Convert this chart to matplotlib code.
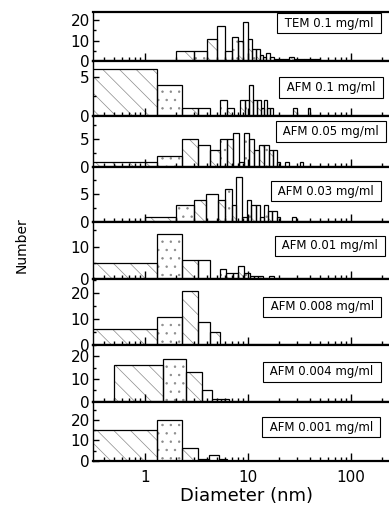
import matplotlib

matplotlib.use("Agg")
import matplotlib.pyplot as plt
import matplotlib.ticker as mticker
import numpy as np

plt.rcParams["font.family"] = ["DejaVu Sans"]
plt.rcParams["hatch.linewidth"] = 0.5

# --- data: bin edges (nm) and counts per panel, top to bottom ---
labels = ["TEM 0.1 mg/ml", "AFM 0.1 mg/ml", "AFM 0.05 mg/ml", "AFM 0.03 mg/ml",
          "AFM 0.01 mg/ml", "AFM 0.008 mg/ml", "AFM 0.004 mg/ml", "AFM 0.001 mg/ml"]

tem_edges = [2, 3, 4, 5, 6, 7, 8, 9, 10, 11, 12, 13, 14, 15, 16.5, 18, 20, 22, 25, 28, 31, 35, 40, 45, 50]
tem_counts = [5, 5, 11, 17, 5, 12, 10, 19, 11, 6, 6, 3, 2, 4, 2, 1, 1, 1, 2, 1, 1, 1, 1, 1]

afm01_edges = [0.3, 1.3, 2.3, 3.3, 4.3, 5.3, 6.3, 7.3, 8.3, 9.3, 10.3, 11.3, 12.3,
               13.3, 14.3, 15.3, 16.3, 17.3, 27.5, 29.7, 38, 40]
afm01_counts = [6, 4, 1, 1, 0, 2, 1, 0, 2, 2, 4, 2, 2, 1, 2, 1, 1, 0, 1, 0, 1]

afm005_edges = [0.3, 1.3, 2.3, 3.3, 4.3, 5.3, 6.2, 7.1, 8.2, 9.2, 10.3, 11.4, 12.9,
                14.4, 16.1, 17.3, 19.0, 20.4, 23, 25, 32, 34]
afm005_counts = [1, 2, 5, 4, 3, 5, 5, 6, 1, 6, 5, 3, 4, 4, 3, 3, 1, 0, 1, 0, 1]

afm003_edges = [1.0, 2.0, 3.0, 3.9, 5.1, 6.0, 7.0, 7.7, 8.8, 9.8, 10.8, 11.9, 13.1,
                14.4, 15.8, 17.2, 19.0, 20.4, 27, 29]
afm003_counts = [1, 3, 4, 5, 4, 6, 3, 8, 1, 4, 3, 3, 1, 3, 2, 2, 1, 0, 1]

afm001_edges = [0.3, 1.3, 2.3, 3.3, 4.3, 5.3, 6.1, 7.1, 8.05, 9.2, 10.4, 11.4, 12.6, 14.1, 16, 18]
afm001_counts = [5, 14, 6, 6, 0, 3, 2, 2, 4, 2, 1, 1, 1, 0, 1]

afm0008_edges = [0.3, 1.3, 2.3, 3.3, 4.3, 5.3]
afm0008_counts = [6, 11, 21, 9, 5]

afm0004_edges = [0.5, 1.5, 2.5, 3.55, 4.5, 5.5, 6.5]
afm0004_counts = [16, 19, 13, 5, 1, 1]

afm0001_edges = [0.3, 1.3, 2.3, 3.3, 4.2, 5.2, 6.2]
afm0001_counts = [15, 20, 6, 1, 3, 1]

edges_all = [tem_edges, afm01_edges, afm005_edges, afm003_edges,
             afm001_edges, afm0008_edges, afm0004_edges, afm0001_edges]
counts_all = [tem_counts, afm01_counts, afm005_counts, afm003_counts,
              afm001_counts, afm0008_counts, afm0004_counts, afm0001_counts]

# --- layout (pixels of a 389x508 canvas) ---
W, H = 389, 508
panel_y = [12, 61, 116, 167.3, 222.3, 279, 345, 401.7, 460.7]
ax_left = 92.7
ylims = [24, 7.0, 9, 9.8, 17.5, 25.5, 25, 29]
ysteps = [10, 5, 5, 5, 10, 10, 10, 10]
box_xy = [(329, 23), (331, 87.5), (331, 131.5), (326, 191),
          (330, 246), (322, 306.7), (322, 372), (321, 427)]
hatches = ["\\\\", "..", "\\\\", ""]

fig = plt.figure(figsize=(W / 100, H / 100), dpi=100)

for i in range(8):
    y0, y1 = panel_y[i], panel_y[i + 1]
    ax = fig.add_axes([ax_left / W, 1 - y1 / H, 1 - ax_left / W, (y1 - y0) / H])

    e = np.asarray(edges_all[i], float)
    c = np.asarray(counts_all[i], float)
    left, width = e[:-1], np.diff(e)
    keep = c > 0
    hs = [hatches[k % len(hatches)] for k in range(len(c))]
    hs = [h for h, k in zip(hs, keep) if k]

    # hatch fill in grey, then black outlines on top
    fills = ax.bar(left[keep], c[keep], width=width[keep], align="edge",
                   color="white", edgecolor="#8a8a8a", linewidth=0)
    for b, h in zip(fills, hs):
        b.set_hatch(h)
    ax.bar(left[keep], c[keep], width=width[keep], align="edge",
           fill=False, edgecolor="black", linewidth=0.9)

    ax.set_xscale("log")
    ax.set_xlim(0.31, 234)
    ax.set_ylim(0, ylims[i])
    ax.yaxis.set_major_locator(mticker.MultipleLocator(ysteps[i]))
    ax.yaxis.set_minor_locator(mticker.AutoMinorLocator(2))
    ax.xaxis.set_major_formatter(mticker.FuncFormatter(lambda v, p: f"{v:g}"))
    ax.xaxis.set_minor_formatter(mticker.NullFormatter())

    ax.tick_params(which="both", direction="in", top=False, right=False,
                   labelsize=11, width=1.0)
    ax.tick_params(axis="y", which="major", length=4, pad=2)
    ax.tick_params(axis="y", which="minor", length=2.5)
    ax.tick_params(axis="x", which="major", length=6, pad=7)
    ax.tick_params(axis="x", which="minor", length=3)
    if i < 7:
        ax.tick_params(axis="x", labelbottom=False)

    ax.spines["right"].set_visible(False)
    ax.spines["left"].set_linewidth(1.0)
    ax.spines["top"].set_linewidth(1.6)
    ax.spines["bottom"].set_linewidth(1.6)

    bx, by = box_xy[i]
    fig.text(bx / W, 1 - by / H, f" {labels[i]} ", ha="center", va="center", fontsize=8.5,
             zorder=5, bbox=dict(boxstyle="square,pad=0.3", fc="white", ec="black", lw=0.8))

fig.text(22 / W, 1 - 245 / H, "Number", rotation=90, ha="center", va="center", fontsize=10)
fig.text(247 / W, 1 - 496 / H, "Diameter (nm)", ha="center", va="center", fontsize=13)

fig.savefig("out.png", dpi=100)
plt.close(fig)
